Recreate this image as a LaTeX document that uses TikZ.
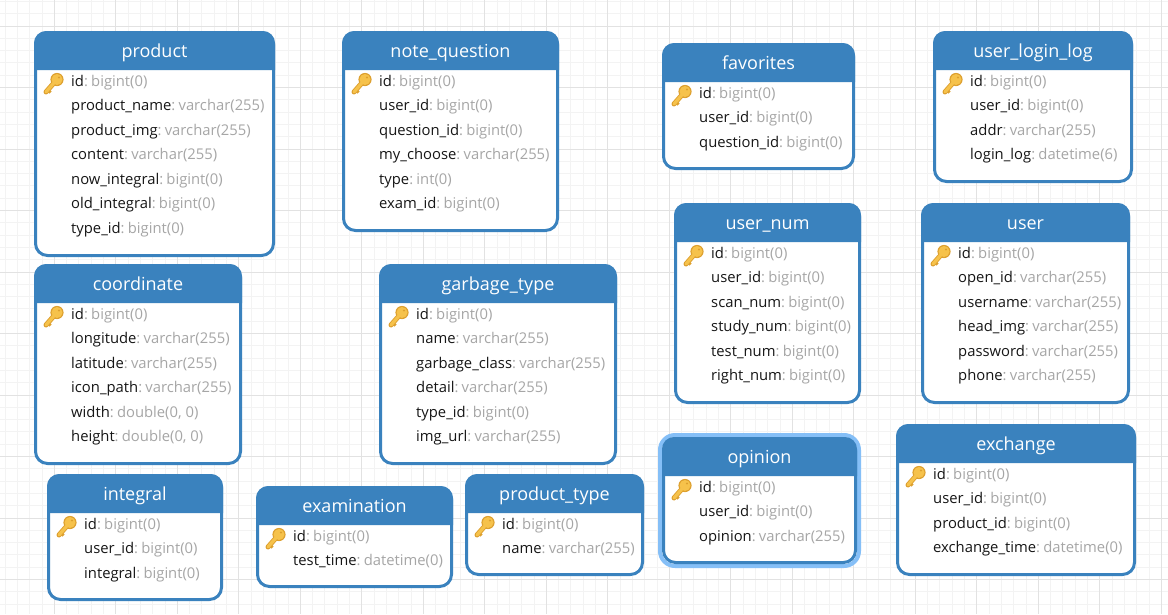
\documentclass[tikz,border=0pt]{standalone}
\usepackage{fontspec}
\setmainfont{Open Sans}
\definecolor{hdr}{HTML}{3A82BE}
\definecolor{typegray}{HTML}{A6A6A6}
\definecolor{rowink}{HTML}{161616}
\definecolor{glowblue}{HTML}{85BFF7}
\definecolor{gridminor}{HTML}{F3F3F3}
\definecolor{gridmajor}{HTML}{E2E2E2}
\definecolor{keyfill}{HTML}{F6C24B}
\definecolor{keyedge}{HTML}{DDA02F}
\tikzset{
  tablebox/.style={draw=hdr,fill=white,line width=3pt,rounded corners=12pt,inner sep=0pt,outer sep=0pt},
  headpaint/.style={fill=hdr,rounded corners=12pt},
  titletext/.style={text=white,font=\fontsize{18}{20}\selectfont,inner sep=0pt,anchor=base},
  rowtext/.style={text=rowink,font=\fontsize{14.8}{18}\selectfont,inner sep=0pt,anchor=base west},
  glowbox/.style={draw=glowblue,fill=none,line width=4pt,rounded corners=15pt,inner sep=0pt,outer sep=0pt},
}
\newcommand{\keyicon}[2]{%
  \begin{scope}[shift={(#1,#2)}]
    \draw[keyedge,line width=5pt,line cap=round] (12,-12) -- (1.5,0);
    \draw[keyedge,line width=3pt,line cap=butt] (3,-2.5) -- (6,0.5);
    \fill[keyedge] (12.5,-12.5) circle (6.6);
    \draw[keyfill,line width=3.2pt,line cap=round] (12,-12) -- (1.7,-0.2);
    \fill[keyfill] (12.5,-12.5) circle (5.5);
    \fill[keyedge] (14.5,-14.5) circle (1.2);
  \end{scope}}
\newcommand{\erd}[7]{%
  \pgfmathsetmacro{\bw}{#5-#3-3}\pgfmathsetmacro{\bh}{#6-#4-3}%
  \pgfmathsetmacro{\cx}{(#3+#5)/2}\pgfmathsetmacro{\cy}{(#4+#6)/2}%
  \node[tablebox,minimum width=\bw pt,minimum height=\bh pt] (#1) at (\cx,\cy) {};
  \pgfmathsetmacro{\hy}{#4+39}%
  \fill[headpaint] (#3,\hy) [sharp corners] -- (#3,#4+12) [rounded corners=12pt] -- (#3,#4) -- (#5,#4) [sharp corners] -- (#5,\hy) -- cycle;
  \node[titletext] (#1-title) at (\cx,#4+26) {#2};
  \keyicon{#3+10.5}{#4+61}
  \foreach \nm/\ty [count=\i from 0] in {#7} {
    \pgfmathsetmacro{\ry}{#4+55.3+24.5*\i}
    \node[rowtext] (#1-row\i) at (#3+37,\ry) {\nm\textcolor{typegray}{:\hspace{0.22em}\ty}};
  }%
}
\begin{document}
\begin{tikzpicture}[x=1pt,y=-1pt]
\useasboundingbox (0,0) rectangle (1168,614);
\fill[white] (0,0) rectangle (1168,614);
\foreach \i in {0,...,95} {\draw[gridminor,line width=1pt] (5.1+12.3*\i,0) -- (5.1+12.3*\i,614);}
\foreach \i in {0,...,50} {\draw[gridminor,line width=1pt] (0,1.4+12.3*\i) -- (1168,1.4+12.3*\i);}
\foreach \i in {0,...,18} {\draw[gridmajor,line width=1pt] (54.4+61.5*\i,0) -- (54.4+61.5*\i,614);}
\foreach \i in {0,...,9} {\draw[gridmajor,line width=1pt] (0,26+61.5*\i) -- (1168,26+61.5*\i);}
\erd{product}{product}{34}{31}{275}{257}{id/bigint(0),product\_name/varchar(255),product\_img/varchar(255),content/varchar(255),now\_integral/bigint(0),old\_integral/bigint(0),type\_id/bigint(0)}
\erd{notequestion}{note\_question}{342}{31}{559}{232}{id/bigint(0),user\_id/bigint(0),question\_id/bigint(0),my\_choose/varchar(255),type/int(0),exam\_id/bigint(0)}
\erd{favorites}{favorites}{662}{43}{855}{170}{id/bigint(0),user\_id/bigint(0),question\_id/bigint(0)}
\erd{userloginlog}{user\_login\_log}{933}{31}{1133}{183}{id/bigint(0),user\_id/bigint(0),addr/varchar(255),login\_log/datetime(6)}
\erd{usernum}{user\_num}{674}{203}{861}{404}{id/bigint(0),user\_id/bigint(0),scan\_num/bigint(0),study\_num/bigint(0),test\_num/bigint(0),right\_num/bigint(0)}
\erd{user}{user}{921}{203}{1130}{404}{id/bigint(0),open\_id/varchar(255),username/varchar(255),head\_img/varchar(255),password/varchar(255),phone/varchar(255)}
\erd{coordinate}{coordinate}{34}{264}{242}{465}{id/bigint(0),longitude/varchar(255),latitude/varchar(255),icon\_path/varchar(255),width/{double(0, 0)},height/{double(0, 0)}}
\erd{garbagetype}{garbage\_type}{379}{264}{617}{465}{id/bigint(0),name/varchar(255),garbage\_class/varchar(255),detail/varchar(255),type\_id/bigint(0),img\_url/varchar(255)}
\erd{integral}{integral}{47}{474}{223}{601}{id/bigint(0),user\_id/bigint(0),integral/bigint(0)}
\erd{examination}{examination}{256}{486}{453}{588}{id/bigint(0),test\_time/datetime(0)}
\erd{producttype}{product\_type}{465}{474}{644}{576}{id/bigint(0),name/varchar(255)}
\node[glowbox,minimum width=199pt,minimum height=131pt] (opinionglow) at (759.5,500.5) {};
\erd{opinion}{opinion}{662}{437}{857}{564}{id/bigint(0),user\_id/bigint(0),opinion/varchar(255)}
\erd{exchange}{exchange}{896}{424}{1136}{576}{id/bigint(0),user\_id/bigint(0),product\_id/bigint(0),exchange\_time/datetime(0)}
\end{tikzpicture}
\end{document}
